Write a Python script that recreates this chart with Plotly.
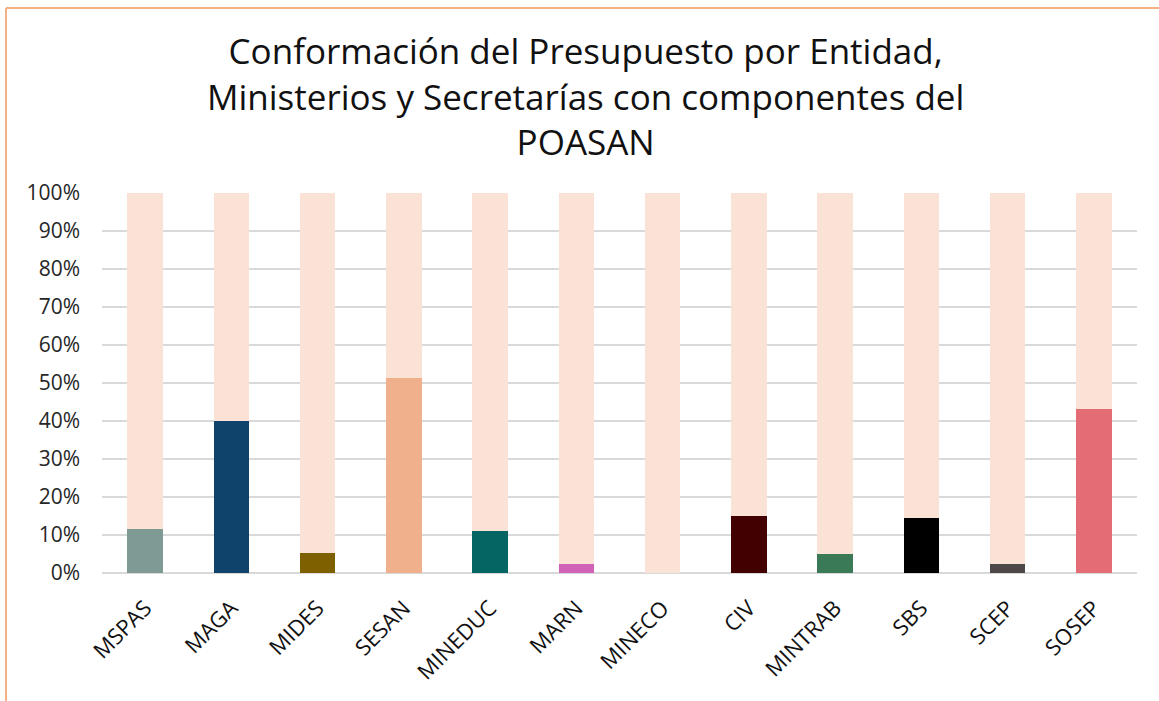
import plotly.graph_objects as go

categories = ["MSPAS", "MAGA", "MIDES", "SESAN", "MINEDUC", "MARN", "MINECO",
              "CIV", "MINTRAB", "SBS", "SCEP", "SOSEP"]
poasan_share = [0.116, 0.40, 0.052, 0.513, 0.110, 0.024, 0.0,
                0.151, 0.049, 0.145, 0.023, 0.432]
bar_colors = ["#7F9A95", "#10436B", "#7F6000", "#F1B08C", "#056563", "#D062B8",
              "#F1B08C", "#430000", "#3B7A57", "#000000", "#4E4748", "#E46C74"]
remainder = [1 - v for v in poasan_share]
y_ticks = [i / 10 for i in range(11)]
y_tick_labels = [f"{i * 10}%" for i in range(11)]
title_text = ("Conformación del Presupuesto por Entidad,<br>"
              "Ministerios y Secretarías con componentes del<br>"
              "POASAN")

W, H = 1159, 701
ML, MR, MT, MB = 102, 22, 193, 128
pw, ph = W - ML - MR, H - MT - MB

def px_x(x):
    return (x - ML) / pw

def px_y(y):
    return (H - MB - y) / ph

fig = go.Figure()
fig.add_trace(go.Bar(x=categories, y=poasan_share, marker=dict(color=bar_colors, line=dict(width=0)),
                     name="POASAN", showlegend=False))
fig.add_trace(go.Bar(x=categories, y=remainder, marker=dict(color="#FAE3D6", line=dict(width=0)),
                     name="Resto", showlegend=False))

font_family = "'Open Sans', Lato, sans-serif"

fig.update_layout(
    width=W, height=H,
    barmode="stack", bargap=0.59,
    plot_bgcolor="white", paper_bgcolor="white",
    margin=dict(l=ML, r=MR, t=MT, b=MB, autoexpand=False),
    font=dict(family=font_family, color="#262626"),
    xaxis=dict(tickangle=-45, tickfont=dict(size=22, color="#111111"), showgrid=False,
               showline=False, ticks="", automargin=False, ticklabelstandoff=17),
    yaxis=dict(range=[0, 1], tickvals=y_ticks, ticktext=y_tick_labels,
               tickfont=dict(size=21, color="#262626"), gridcolor="#D9D9D9", gridwidth=1.5,
               zeroline=True, zerolinecolor="#D9D9D9", zerolinewidth=1.5, ticks="",
               showline=False, automargin=False, ticklabelstandoff=21),
    annotations=[dict(text=title_text, xref="paper", yref="paper", x=px_x(585), y=px_y(96),
                      xanchor="center", yanchor="middle", showarrow=False, align="center",
                      font=dict(family=font_family, size=35, color="#111111"))],
    shapes=[
        dict(type="line", xref="paper", yref="paper", x0=px_x(6), x1=px_x(W + 10),
             y0=px_y(8), y1=px_y(8), line=dict(color="#F4B183", width=2)),
        dict(type="line", xref="paper", yref="paper", x0=px_x(6), x1=px_x(6),
             y0=px_y(8), y1=px_y(H + 10), line=dict(color="#F4B183", width=2)),
    ],
)

fig.write_html("out.html", config={"displayModeBar": False},
               post_script="document.body.style.margin='0';")
